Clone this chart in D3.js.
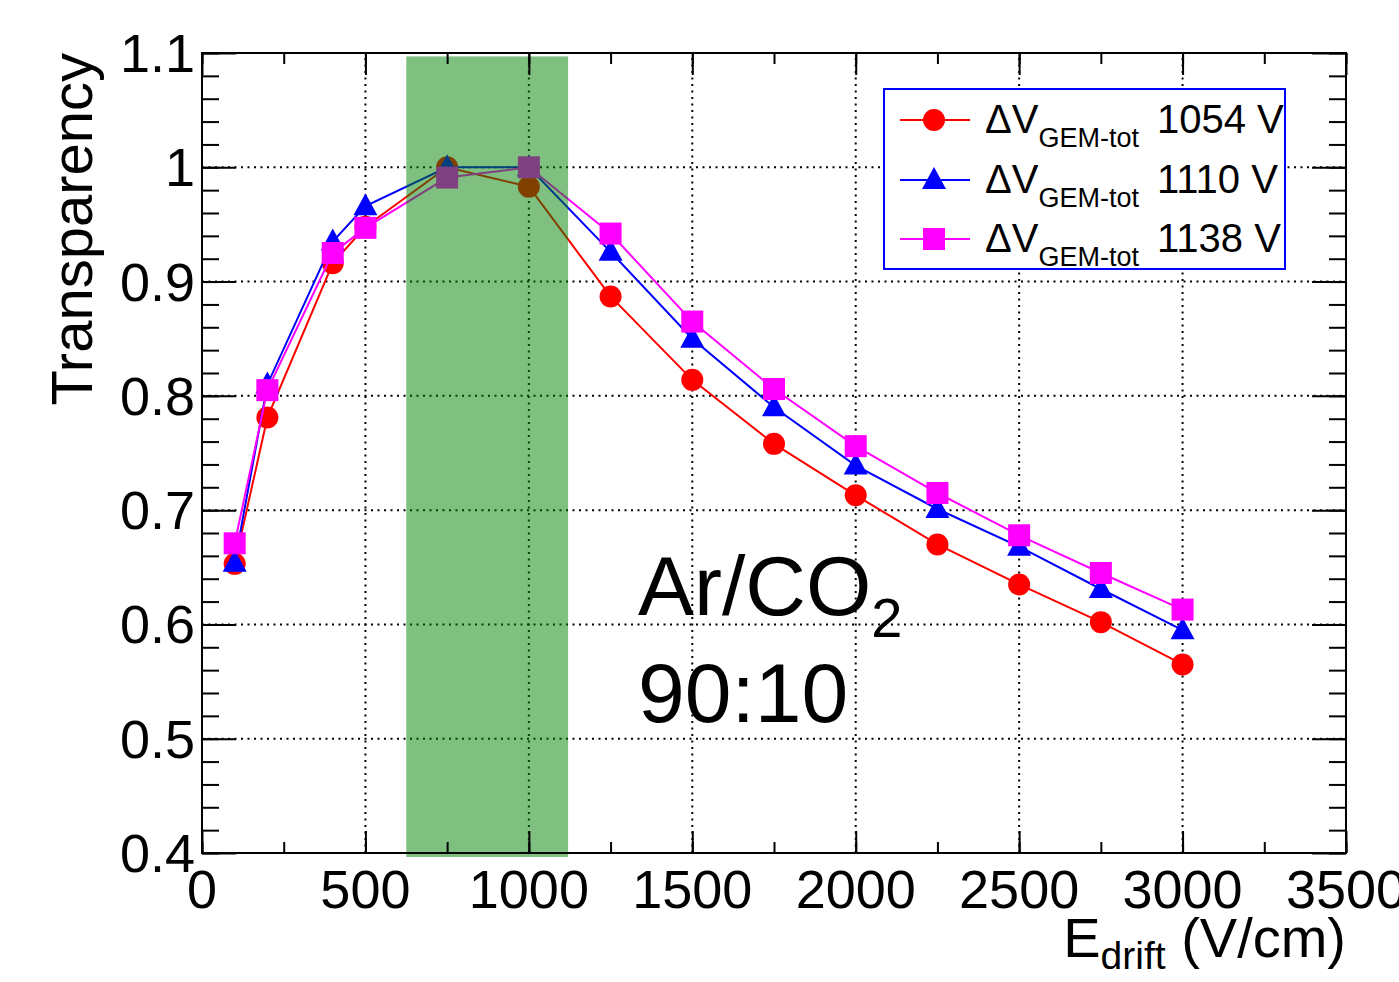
<!DOCTYPE html>
<html>
<head>
<meta charset="utf-8">
<script src="https://cdn.jsdelivr.net/npm/d3@7"></script>
<style>
  html, body { margin: 0; padding: 0; background: #fff; }
  svg { display: block; font-family: "Liberation Sans", Arial, Helvetica, sans-serif; }
</style>
</head>
<body>
<svg id="chart" width="1399" height="982"></svg>
<script>
// drift field (V/cm)
var eDrift = [100, 200, 400, 500, 750, 1000, 1250, 1500, 1750, 2000, 2250, 2500, 2750, 3000];

// transparency, one list per GEM voltage
var trans1054 = [0.653, 0.781, 0.916, 0.948, 1.000, 0.983, 0.887, 0.814, 0.758, 0.713, 0.670, 0.635, 0.602, 0.565];
var trans1110 = [0.654, 0.810, 0.935, 0.966, 1.000, 1.000, 0.926, 0.850, 0.790, 0.739, 0.701, 0.668, 0.631, 0.595];
var trans1138 = [0.671, 0.805, 0.925, 0.947, 0.991, 1.000, 0.942, 0.865, 0.806, 0.756, 0.715, 0.678, 0.645, 0.613];

var seriesNames = ['1054 V', '1110 V', '1138 V'];

// highlighted field region and axis ticks
var bandX = [625, 1120];
var bandY = [0.3965, 1.097];
var xMajor = [0, 500, 1000, 1500, 2000, 2500, 3000, 3500];
var yMajor = [0.4, 0.5, 0.6, 0.7, 0.8, 0.9, 1.0, 1.1];

var margin = {left: 202, top: 53, right: 53, bottom: 129};
var W = 1399, H = 982;

var svg = d3.select('#chart');

var x = d3.scaleLinear().domain([0, 3500]).range([margin.left, W - margin.right]);
var y = d3.scaleLinear().domain([0.4, 1.1]).range([H - margin.bottom, margin.top]);

var xMinor = d3.range(0, 3501, 250);
var yMinor = d3.range(0, 36).map(function(i) { return +(0.4 + i * 0.02).toFixed(2); });

// gridlines at major ticks
var grid = svg.append('g').attr('class', 'grid')
  .attr('stroke', '#000').attr('stroke-width', 2).attr('stroke-dasharray', '2,4.5');
grid.selectAll('line.gx').data(xMajor.slice(1, -1)).enter().append('line')
  .attr('x1', function(d) { return x(d); }).attr('x2', function(d) { return x(d); })
  .attr('y1', y(0.4)).attr('y2', y(1.1));
grid.selectAll('line.gy').data(yMajor.slice(1, -1)).enter().append('line')
  .attr('y1', function(d) { return y(d); }).attr('y2', function(d) { return y(d); })
  .attr('x1', x(0)).attr('x2', x(3500));

// series
var series = [
  {vals: trans1054, color: '#ff0000', shape: 'circle'},
  {vals: trans1110, color: '#0000ff', shape: 'triangle'},
  {vals: trans1138, color: '#ff00ff', shape: 'square'}
];

function marker(sel, shape, color) {
  if (shape === 'circle') {
    sel.append('circle').attr('r', 11).attr('fill', color);
  } else if (shape === 'square') {
    sel.append('rect').attr('x', -11).attr('y', -11).attr('width', 22).attr('height', 22).attr('fill', color);
  } else {
    sel.append('path').attr('d', 'M0,-13L12,9L-12,9Z').attr('fill', color);
  }
}

var line = d3.line().x(function(d) { return x(d[0]); }).y(function(d) { return y(d[1]); });

series.forEach(function(s) {
  var pts = eDrift.map(function(e, i) { return [e, s.vals[i]]; });
  svg.append('path').datum(pts)
    .attr('d', line).attr('fill', 'none')
    .attr('stroke', s.color).attr('stroke-width', 2);
  svg.append('g').selectAll('g').data(pts).enter().append('g')
    .attr('transform', function(d) { return 'translate(' + x(d[0]) + ',' + y(d[1]) + ')'; })
    .each(function() { marker(d3.select(this), s.shape, s.color); });
});

// green band on top (semi transparent)
svg.append('rect')
  .attr('x', x(bandX[0])).attr('width', x(bandX[1]) - x(bandX[0]))
  .attr('y', y(bandY[1])).attr('height', y(bandY[0]) - y(bandY[1]))
  .attr('fill', '#008000').attr('fill-opacity', 0.5);

// frame + ticks
function styleAxis(g) {
  g.select('.domain').remove();
  g.selectAll('line').attr('stroke', '#000').attr('stroke-width', 2);
}
var noLbl = function() { return ''; };

svg.append('g').attr('transform', 'translate(0,' + y(0.4) + ')')
  .call(d3.axisBottom(x).tickValues(xMinor).tickSize(-11).tickFormat(noLbl)).call(styleAxis);
svg.append('g').attr('transform', 'translate(0,' + y(0.4) + ')')
  .call(d3.axisBottom(x).tickValues(xMajor).tickSize(-22).tickFormat(noLbl)).call(styleAxis);
svg.append('g').attr('transform', 'translate(0,' + y(1.1) + ')')
  .call(d3.axisTop(x).tickValues(xMinor).tickSize(-11).tickFormat(noLbl)).call(styleAxis);
svg.append('g').attr('transform', 'translate(0,' + y(1.1) + ')')
  .call(d3.axisTop(x).tickValues(xMajor).tickSize(-22).tickFormat(noLbl)).call(styleAxis);
svg.append('g').attr('transform', 'translate(' + x(0) + ',0)')
  .call(d3.axisLeft(y).tickValues(yMinor).tickSize(-17).tickFormat(noLbl)).call(styleAxis);
svg.append('g').attr('transform', 'translate(' + x(0) + ',0)')
  .call(d3.axisLeft(y).tickValues(yMajor).tickSize(-34).tickFormat(noLbl)).call(styleAxis);
svg.append('g').attr('transform', 'translate(' + x(3500) + ',0)')
  .call(d3.axisRight(y).tickValues(yMinor).tickSize(-17).tickFormat(noLbl)).call(styleAxis);
svg.append('g').attr('transform', 'translate(' + x(3500) + ',0)')
  .call(d3.axisRight(y).tickValues(yMajor).tickSize(-34).tickFormat(noLbl)).call(styleAxis);

svg.append('rect')
  .attr('x', x(0)).attr('y', y(1.1))
  .attr('width', x(3500) - x(0)).attr('height', y(0.4) - y(1.1))
  .attr('fill', 'none').attr('stroke', '#000').attr('stroke-width', 2);

// tick labels
svg.append('g').selectAll('text').data(xMajor).enter().append('text')
  .attr('x', function(d) { return x(d); }).attr('y', 908)
  .attr('text-anchor', 'middle').attr('font-size', 54)
  .text(function(d) { return d; });
svg.append('g').selectAll('text').data(yMajor).enter().append('text')
  .attr('x', 195).attr('y', function(d) { return y(d) + 19; })
  .attr('text-anchor', 'end').attr('font-size', 54)
  .text(function(d) { return d === 1 ? '1' : d3.format('.1f')(d); });

// axis titles
var xt = svg.append('text').attr('x', x(3500)).attr('y', 957)
  .attr('text-anchor', 'end').attr('font-size', 56);
xt.append('tspan').text('E');
xt.append('tspan').attr('font-size', 39).attr('dy', 12).text('drift');
xt.append('tspan').attr('dy', -12).text(' (V/cm)');

svg.append('text')
  .attr('transform', 'translate(92,' + y(1.1) + ') rotate(-90)')
  .attr('text-anchor', 'end').attr('font-size', 58)
  .text('Transparency');

// gas label
var gas = svg.append('text').attr('x', 638).attr('y', 615).attr('font-size', 84);
gas.append('tspan').text('Ar/CO');
gas.append('tspan').attr('font-size', 56).attr('dy', 22).text('2');
svg.append('text').attr('x', 638).attr('y', 722).attr('font-size', 84).text('90:10');

// legend
var leg = svg.append('g');
leg.append('rect').attr('x', 884).attr('y', 89).attr('width', 401).attr('height', 180)
  .attr('fill', '#fff').attr('stroke', '#0000ff').attr('stroke-width', 2);
var rows = [120, 180, 239];
series.forEach(function(s, i) {
  var r = leg.append('g').attr('transform', 'translate(0,' + rows[i] + ')');
  r.append('line').attr('x1', 900).attr('x2', 970).attr('stroke', s.color).attr('stroke-width', 2);
  var m = r.append('g').attr('transform', 'translate(934,0)');
  marker(m, s.shape, s.color);
  var t = r.append('text').attr('x', 985).attr('y', 13).attr('font-size', 40);
  t.append('tspan').text('\u0394V');
  t.append('tspan').attr('font-size', 27).attr('dy', 14).text('GEM-tot');
  r.append('text').attr('x', 1157).attr('y', 13).attr('font-size', 40).text(seriesNames[i]);
});
</script>
</body>
</html>
